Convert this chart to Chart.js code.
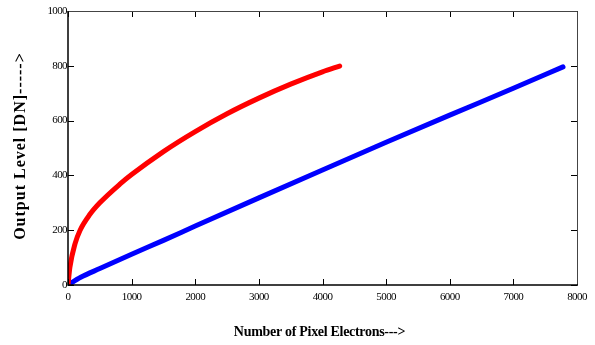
<!DOCTYPE html>
<html>
<head>
<meta charset="utf-8">
<script src="https://cdn.jsdelivr.net/npm/chart.js@4.4.1/dist/chart.umd.min.js"></script>
<style>
    html, body { margin: 0; padding: 0; background: #fff; }
    #chartBox { width: 595px; height: 345px; }
</style>
</head>
<body>
<div id="chartBox"><canvas id="chartContainer"></canvas></div>
<script>
// red curve (non-linear response)
const redElectrons = [0, 30, 110, 190, 345, 500, 815, 1000, 1500, 2000, 2500, 3000, 3500, 4000, 4270];
const redLevels = [0, 65, 150, 200, 258, 300, 368, 403, 487, 560, 625, 682, 733, 778, 799];
// blue line (near-linear response)
const blueElectrons = [0, 200, 500, 1000, 1500, 2000, 3000, 4000, 5000, 6000, 7000, 7780];
const blueLevels = [0, 28, 60, 112, 163, 215, 318, 420, 521, 620, 718, 796];

const xTicks = [0, 1000, 2000, 3000, 4000, 5000, 6000, 7000, 8000];
const yTicks = [0, 200, 400, 600, 800, 1000];

const xTitle = "Number of Pixel Electrons--->";
const yTitle = "Output Level [DN]----->";

const toPoints = (xs, ys) => xs.map((x, i) => ({ x: x, y: ys[i] }));

// inward tick marks, frame and axis titles, drawn from the scales
const framePlugin = {
    id: "frame",
    beforeDraw(chart) {
        chart.ctx.letterSpacing = "-0.6px";
    },
    afterDraw(chart) {
        const ctx = chart.ctx;
        const a = chart.chartArea;
        const xs = chart.scales.x;
        const ys = chart.scales.y;
        const len = 6;
        ctx.save();
        ctx.letterSpacing = "0px";
        ctx.strokeStyle = "#000";
        ctx.lineWidth = 1;
        xTicks.forEach((v) => {
            const px = Math.round(xs.getPixelForValue(v)) + 0.5;
            ctx.beginPath();
            ctx.moveTo(px, a.bottom);
            ctx.lineTo(px, a.bottom - len);
            ctx.moveTo(px, a.top);
            ctx.lineTo(px, a.top + len);
            ctx.stroke();
        });
        yTicks.forEach((v) => {
            const py = Math.round(ys.getPixelForValue(v)) + 0.5;
            ctx.beginPath();
            ctx.moveTo(a.left, py);
            ctx.lineTo(a.left + len, py);
            ctx.moveTo(a.right, py);
            ctx.lineTo(a.right - len, py);
            ctx.stroke();
        });
        // top and right sides (greyish)
        ctx.strokeStyle = "#444";
        ctx.beginPath();
        ctx.moveTo(a.left, a.top + 0.5);
        ctx.lineTo(a.right + 0.5, a.top + 0.5);
        ctx.lineTo(a.right + 0.5, a.bottom);
        ctx.stroke();
        // left and bottom sides
        ctx.strokeStyle = "#000";
        ctx.lineWidth = 1.5;
        ctx.beginPath();
        ctx.moveTo(a.left, a.top);
        ctx.lineTo(a.left, a.bottom);
        ctx.lineTo(a.right + 1, a.bottom);
        ctx.stroke();

        // axis titles
        ctx.fillStyle = "#000";
        ctx.textAlign = "center";
        ctx.textBaseline = "middle";
        ctx.font = "bold 14px 'Liberation Serif'";
        ctx.letterSpacing = "-0.3px";
        ctx.fillText(xTitle, (a.left + a.right) / 2 - 3, 332);
        ctx.save();
        ctx.translate(21, (a.top + a.bottom) / 2 - 2);
        ctx.rotate(-Math.PI / 2);
        ctx.font = "bold 16px 'Liberation Serif'";
        ctx.letterSpacing = "1px";
        ctx.fillText(yTitle, 0, 0);
        ctx.restore();
        ctx.restore();
    },
};

const ctx = document.getElementById("chartContainer");
new Chart(ctx, {
    type: "line",
    data: {
        datasets: [
            {
                label: "red",
                data: toPoints(redElectrons, redLevels),
                borderColor: "#ff0000",
                borderWidth: 5,
                borderCapStyle: "round",
                borderJoinStyle: "round",
                pointRadius: 0,
                cubicInterpolationMode: "monotone",
            },
            {
                label: "blue",
                data: toPoints(blueElectrons, blueLevels),
                borderColor: "#0000ff",
                borderWidth: 5,
                borderCapStyle: "round",
                borderJoinStyle: "round",
                pointRadius: 0,
                cubicInterpolationMode: "monotone",
            },
        ],
    },
    options: {
        responsive: true,
        maintainAspectRatio: false,
        animation: false,
        layout: { padding: { top: 11, right: 18, left: 0, bottom: 0 } },
        plugins: { legend: { display: false }, tooltip: { enabled: false } },
        scales: {
            x: {
                type: "linear",
                min: 0,
                max: 8000,
                afterBuildTicks: (scale) => {
                    scale.ticks = xTicks.map((v) => ({ value: v }));
                },
                afterFit: (scale) => {
                    scale.height = 60;
                },
                grid: { display: false, drawTicks: false },
                border: { display: false },
                ticks: {
                    color: "#000",
                    padding: 6,
                    maxRotation: 0,
                    font: { family: "Liberation Serif", size: 11 },
                    callback: (v) => String(v),
                },
            },
            y: {
                type: "linear",
                min: 0,
                max: 1000,
                afterBuildTicks: (scale) => {
                    scale.ticks = yTicks.map((v) => ({ value: v }));
                },
                afterFit: (scale) => {
                    scale.width = 68;
                },
                grid: { display: false, drawTicks: false },
                border: { display: false },
                ticks: {
                    color: "#000",
                    padding: 1,
                    font: { family: "Liberation Serif", size: 11 },
                    callback: (v) => String(v),
                },
            },
        },
    },
    plugins: [framePlugin],
});
</script>
</body>
</html>
